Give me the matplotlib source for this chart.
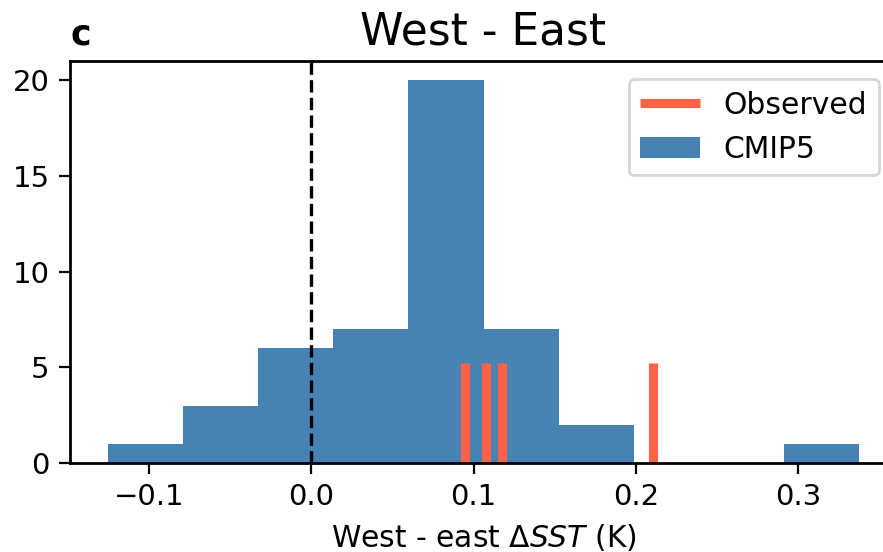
import numpy as np
import matplotlib
matplotlib.use('Agg')
import matplotlib.pyplot as plt

# histogram of CMIP5 models
bin_lo = -0.1256
bin_hi = 0.3379
cmip5_counts = [1, 3, 6, 7, 20, 7, 2, 0, 0, 1]
# observed estimates
observed = [0.0948, 0.1074, 0.1175, 0.2107]

edges = np.linspace(bin_lo, bin_hi, len(cmip5_counts) + 1)
centers = (edges[:-1] + edges[1:]) / 2

fig = plt.figure(figsize=(883/200, 552/200), dpi=200)
ax = fig.add_axes([70/883, 89/552, 827/883, 402/552])

ax.hist(centers, bins=edges, weights=cmip5_counts, color='steelblue', label='CMIP5')
ax.axvline(0, color='k', ls='--', lw=1.2)
for i, v in enumerate(observed):
    ax.axvline(v, ymax=0.25, color='tomato', lw=3.3, solid_capstyle='butt',
               label='Observed' if i == 0 else None)

ax.set_ylim(0, 21)
ax.set_xticks([-0.1, 0.0, 0.1, 0.2, 0.3])
ax.set_yticks([0, 5, 10, 15, 20])
ax.tick_params(labelsize=10.5, length=3.8)
for s in ax.spines.values():
    s.set_linewidth(1.0)

ax.set_title('West - East', fontsize=15.8)
ax.set_title('c', loc='left', fontsize=12.5, fontweight='bold')
ax.set_xlabel(r'West - east $\Delta SST$ (K)', fontsize=10.7)

h, l = ax.get_legend_handles_labels()
order = [l.index('Observed'), l.index('CMIP5')]
ax.legend([h[i] for i in order], [l[i] for i in order], loc='upper right', fontsize=10.7,
          borderaxespad=0.6)

fig.savefig('out.png', dpi=200)
